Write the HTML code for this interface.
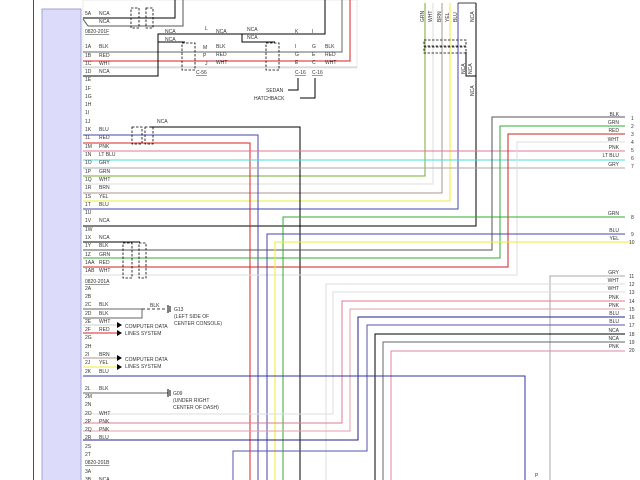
<!DOCTYPE html>
<html><head><meta charset="utf-8"><style>
html,body{margin:0;padding:0;background:#fff;width:640px;height:480px;overflow:hidden}
svg{display:block}
text{font-family:"Liberation Sans",sans-serif;font-size:5px;fill:#333}
.w{fill:none;stroke-width:1}
.s{fill:none;stroke:#000;stroke-width:0.8;stroke-dasharray:2.5,1.5}
</style></head><body>
<svg width="640" height="480" viewBox="0 0 640 480" xmlns="http://www.w3.org/2000/svg">
<rect x="0" y="0" width="640" height="480" fill="#fff"/>
<line x1="33.5" y1="0" x2="33.5" y2="480" stroke="#222" stroke-width="0.8"/>
<rect x="42" y="9" width="39" height="472" fill="#dcdcfa" stroke="#9090c8" stroke-width="0.8"/>
<rect x="83" y="0" width="274" height="68" fill="none" stroke="#ddd" stroke-width="0.6"/>

<polyline class="w" stroke="#000" points="83,18 175,18 175,0"/>
<polyline class="w" stroke="#555" points="83,19 88,26 183,26 183,0"/>
<polyline class="w" stroke="#666" points="83,52 342,52 342,0"/>
<polyline class="w" stroke="#d22" points="83,61 350,61 350,0"/>
<polyline class="w" stroke="#ccc" points="83,67 357,67"/>
<polyline class="w" stroke="#000" points="83,76 158,76 158,34 325,34 325,0"/>
<polyline class="w" stroke="#000" points="158,42 185,42"/>
<polyline class="w" stroke="#000" points="242,34 242,42 275,42"/>
<rect class="s" x="131" y="8" width="8" height="20"/><rect class="s" x="146" y="8" width="7" height="20"/>
<rect class="s" x="182" y="43" width="13" height="27"/><rect class="s" x="266" y="43" width="13" height="27"/>
<polyline class="w" stroke="#000" points="288,90 298,90 298,78"/>
<polyline class="w" stroke="#000" points="300,98 315,98 315,78"/>
<text x="266" y="92">SEDAN</text><text x="254" y="100">HATCHBACK</text>
<text x="295" y="74" text-decoration="underline">C-16</text><text x="312" y="74" text-decoration="underline">C-16</text>
<text x="196" y="74" text-decoration="underline">C-56</text>
<text x="165" y="33">NCA</text><text x="165" y="41">NCA</text><text x="216" y="33">NCA</text><text x="247" y="31">NCA</text><text x="247" y="39">NCA</text>
<text x="205" y="30">L</text><text x="203" y="49">M</text><text x="203" y="57">P</text><text x="205" y="65">J</text>
<text x="216" y="48">BLK</text><text x="216" y="56">RED</text><text x="216" y="64">WHT</text>
<text x="295" y="33">K</text><text x="312" y="33">I</text>
<text x="295" y="48">I</text><text x="295" y="56">G</text><text x="295" y="64">E</text>
<text x="312" y="48">G</text><text x="312" y="56">E</text><text x="312" y="64">C</text>
<text x="325" y="48">BLK</text><text x="325" y="56">RED</text><text x="325" y="64">WHT</text>

<polyline class="w" stroke="#7a3" points="425,3 425,176 83,176"/>
<polyline class="w" stroke="#ddd" points="433,3 433,184 83,184"/>
<polyline class="w" stroke="#a98" points="442,3 442,193 83,193"/>
<polyline class="w" stroke="#ee3" points="450,3 450,201 83,201"/>
<polyline class="w" stroke="#44a" points="458,3 458,209 83,209"/>
<polyline class="w" stroke="#000" points="476,3 476,226 83,226"/>
<polyline class="w" stroke="#000" points="466,52 466,76 476,76"/>
<line x1="458" y1="3" x2="476" y2="3" stroke="#000" stroke-width="0.8"/>
<rect class="s" x="424" y="40" width="42" height="6"/><rect class="s" x="424" y="47" width="42" height="6"/>
<g transform="rotate(-90)">
<text x="-22" y="424">GRN</text><text x="-22" y="432">WHT</text><text x="-22" y="441">BRN</text><text x="-22" y="449">YEL</text><text x="-22" y="457">BLU</text><text x="-22" y="474">NCA</text>
<text x="-74" y="465">NCA</text><text x="-74" y="472">NCA</text><text x="-96" y="474">NCA</text>
</g>

<polyline class="w" stroke="#000" points="150,127 300,127 300,480"/>
<polyline class="w" stroke="#44a" points="83,135 258,135 258,480"/>
<polyline class="w" stroke="#d22" points="83,143 250,143 250,480"/>
<polyline class="w" stroke="#e07890" points="83,151 625,151"/>
<polyline class="w" stroke="#4dd" points="83,160 625,160"/>
<polyline class="w" stroke="#aaa" points="83,168 625,168"/>
<rect class="s" x="132" y="127" width="10" height="17"/><rect class="s" x="145" y="127" width="8" height="17"/>
<polyline class="w" stroke="#555" points="625,117 492,117 492,250 83,250"/>
<polyline class="w" stroke="#3a3" points="625,126 500,126 500,258 83,258"/>
<polyline class="w" stroke="#c22" points="625,134 508,134 508,267 83,267"/>
<polyline class="w" stroke="#ddd" points="625,142 517,142 517,275 83,275"/>
<polyline class="w" stroke="#000" points="83,242 140,242"/>
<rect class="s" x="123" y="243" width="9" height="35"/><rect class="s" x="139" y="243" width="7" height="35"/>
<polyline class="w" stroke="#3a3" points="625,217 283,217 283,480"/>
<polyline class="w" stroke="#44a" points="625,234 267,234 267,480"/>
<polyline class="w" stroke="#ee3" points="632,242 275,242 275,480"/>
<polyline class="w" stroke="#aaa" points="625,276 550,276 550,480"/>
<polyline class="w" stroke="#ddd" points="625,284 326,284 326,480"/>
<polyline class="w" stroke="#ddd" points="625,292 333,292 333,414 83,414"/>
<polyline class="w" stroke="#e07890" points="625,301 342,301 342,423 83,423"/>
<polyline class="w" stroke="#e0a0a8" points="625,309 350,309 350,431 83,431"/>
<polyline class="w" stroke="#228" points="625,317 358,317 358,440 83,440"/>
<polyline class="w" stroke="#55a" points="625,325 367,325 367,451 233,451 233,480"/>
<polyline class="w" stroke="#000" points="625,334 375,334 375,480"/>
<polyline class="w" stroke="#666" points="625,342 383,342 383,480"/>
<polyline class="w" stroke="#d8a" points="625,351 391,351 391,480"/>
<polyline class="w" stroke="#33a" points="83,376 525,376 525,480"/>
<polyline class="w" stroke="#666" points="83,309 142,309 142,318 83,318"/>
<line x1="142" y1="309" x2="166" y2="309" stroke="#000" stroke-width="0.8" stroke-dasharray="3,2"/>
<line x1="168" y1="305" x2="168" y2="313" stroke="#000"/><line x1="170" y1="306" x2="170" y2="312" stroke="#000"/>
<text x="174" y="311">G13</text><text x="174" y="318">(LEFT SIDE OF</text><text x="174" y="325">CENTER CONSOLE)</text><text x="150" y="307">BLK</text>
<polyline class="w" stroke="#ccc" points="83,325 118,325"/>
<polyline class="w" stroke="#d22" points="83,333 118,333"/>
<polygon points="117,322 122,325 117,328" fill="#000"/><polygon points="117,330 122,333 117,336" fill="#000"/>
<text x="125" y="328">COMPUTER DATA</text><text x="125" y="335">LINES SYSTEM</text>
<polyline class="w" stroke="#a98" points="83,358 118,358"/>
<polyline class="w" stroke="#ee3" points="83,367 118,367"/>
<polygon points="117,355 122,358 117,361" fill="#000"/><polygon points="117,364 122,367 117,370" fill="#000"/>
<text x="125" y="361">COMPUTER DATA</text><text x="125" y="368">LINES SYSTEM</text>
<polyline class="w" stroke="#666" points="83,393 168,393"/>
<line x1="168" y1="389" x2="168" y2="397" stroke="#000"/><line x1="170" y1="390" x2="170" y2="396" stroke="#000"/>
<text x="173" y="395">G09</text><text x="173" y="402">(UNDER RIGHT</text><text x="173" y="409">CENTER OF DASH)</text>
<text x="535" y="477">P</text>

<g text-anchor="end">
<text x="619" y="116">BLK</text><text x="619" y="124">GRN</text><text x="619" y="132">RED</text><text x="619" y="141">WHT</text><text x="619" y="149">PNK</text><text x="619" y="157">LT BLU</text><text x="619" y="166">GRY</text>
<text x="619" y="215">GRN</text><text x="619" y="232">BLU</text><text x="619" y="240">YEL</text>
<text x="619" y="274">GRY</text><text x="619" y="282">WHT</text><text x="619" y="290">WHT</text><text x="619" y="299">PNK</text><text x="619" y="307">PNK</text><text x="619" y="315">BLU</text><text x="619" y="323">BLU</text><text x="619" y="332">NCA</text><text x="619" y="340">NCA</text><text x="619" y="348">PNK</text>
</g>
<g>
<text x="631" y="120">1</text><text x="631" y="128">2</text><text x="631" y="136">3</text><text x="631" y="144">4</text><text x="631" y="152">5</text><text x="631" y="160">6</text><text x="631" y="168">7</text>
<text x="631" y="219">8</text><text x="631" y="236">9</text><text x="629" y="244">10</text>
<text x="629" y="278">11</text><text x="629" y="286">12</text><text x="629" y="294">13</text><text x="629" y="303">14</text><text x="629" y="311">15</text><text x="629" y="319">16</text><text x="629" y="327">17</text><text x="629" y="336">18</text><text x="629" y="344">19</text><text x="629" y="352">20</text>
</g>

<g>
<text x="85" y="15">5A</text><text x="99" y="15">NCA</text><text x="99" y="23">NCA</text>
<text x="85" y="33" text-decoration="underline">0820-201F</text>
<text x="85" y="48">1A</text><text x="99" y="48">BLK</text>
<text x="85" y="57">1B</text><text x="99" y="57">RED</text>
<text x="85" y="65">1C</text><text x="99" y="65">WHT</text>
<text x="85" y="73">1D</text><text x="99" y="73">NCA</text>
<text x="85" y="81">1E</text><text x="85" y="90">1F</text><text x="85" y="98">1G</text><text x="85" y="106">1H</text><text x="85" y="114">1I</text><text x="85" y="123">1J</text>
<text x="85" y="131">1K</text><text x="99" y="131">BLU</text><text x="157" y="123">NCA</text>
<text x="85" y="139">1L</text><text x="99" y="139">RED</text>
<text x="85" y="148">1M</text><text x="99" y="148">PNK</text>
<text x="85" y="156">1N</text><text x="99" y="156">LT BLU</text>
<text x="85" y="164">1O</text><text x="99" y="164">GRY</text>
<text x="85" y="173">1P</text><text x="99" y="173">GRN</text>
<text x="85" y="181">1Q</text><text x="99" y="181">WHT</text>
<text x="85" y="189">1R</text><text x="99" y="189">BRN</text>
<text x="85" y="198">1S</text><text x="99" y="198">YEL</text>
<text x="85" y="206">1T</text><text x="99" y="206">BLU</text>
<text x="85" y="214">1U</text>
<text x="85" y="222">1V</text><text x="99" y="222">NCA</text>
<text x="85" y="231">1W</text>
<text x="85" y="239">1X</text><text x="99" y="239">NCA</text>
<text x="85" y="247">1Y</text><text x="99" y="247">BLK</text>
<text x="85" y="256">1Z</text><text x="99" y="256">GRN</text>
<text x="85" y="264">1AA</text><text x="99" y="264">RED</text>
<text x="85" y="272">1AB</text><text x="99" y="272">WHT</text>
<text x="85" y="283" text-decoration="underline">0820-201A</text>
<text x="85" y="290">2A</text><text x="85" y="298">2B</text>
<text x="85" y="306">2C</text><text x="99" y="306">BLK</text>
<text x="85" y="315">2D</text><text x="99" y="315">BLK</text>
<text x="85" y="323">2E</text><text x="99" y="323">WHT</text>
<text x="85" y="331">2F</text><text x="99" y="331">RED</text>
<text x="85" y="339">2G</text><text x="85" y="348">2H</text>
<text x="85" y="356">2I</text><text x="99" y="356">BRN</text>
<text x="85" y="364">2J</text><text x="99" y="364">YEL</text>
<text x="85" y="373">2K</text><text x="99" y="373">BLU</text>
<text x="85" y="390">2L</text><text x="99" y="390">BLK</text>
<text x="85" y="398">2M</text><text x="85" y="406">2N</text>
<text x="85" y="415">2O</text><text x="99" y="415">WHT</text>
<text x="85" y="423">2P</text><text x="99" y="423">PNK</text>
<text x="85" y="431">2Q</text><text x="99" y="431">PNK</text>
<text x="85" y="439">2R</text><text x="99" y="439">BLU</text>
<text x="85" y="448">2S</text><text x="85" y="456">2T</text>
<text x="85" y="464" text-decoration="underline">0820-201B</text>
<text x="85" y="473">3A</text><text x="85" y="481">3B</text><text x="99" y="481">NCA</text>
</g>
</svg>
</body></html>
